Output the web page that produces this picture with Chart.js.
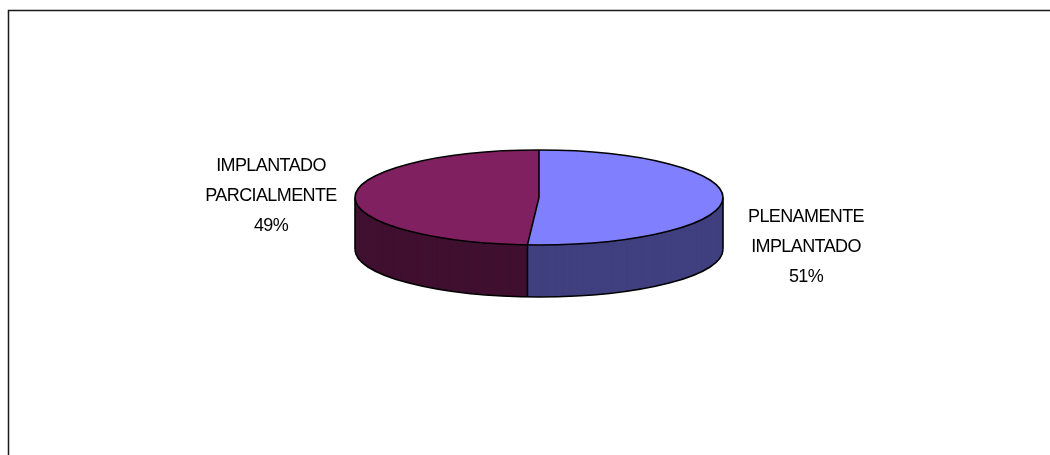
<!DOCTYPE html>
<html>
<head>
<meta charset="utf-8">
<style>
  body { margin: 0; background: #fff; }
  canvas { display: block; }
</style>
<script src="https://cdn.jsdelivr.net/npm/chart.js@4/dist/chart.umd.min.js"></script>
</head>
<body>
<canvas id="pieChart" width="1050" height="455"></canvas>
<script>
const categories = ['PLENAMENTE IMPLANTADO', 'IMPLANTADO PARCIALMENTE'];
const shares = [51, 49];
const topColors = ['#8080ff', '#802060'];
const sideColors = ['#404080', '#401030'];
const labelLines = [
  ['PLENAMENTE', 'IMPLANTADO', '51%'],
  ['IMPLANTADO', 'PARCIALMENTE', '49%']
];
const labelCenters = [[806, 217], [271, 166]];

const squash = 47.5 / 184;
const depth = 52;

function withSquash(ctx, arc, offset, fn) {
  ctx.save();
  ctx.translate(0, arc.y + offset);
  ctx.scale(1, squash);
  ctx.translate(0, -arc.y);
  fn();
  ctx.restore();
}

const pie3d = {
  id: 'pie3d',
  beforeDraw(chart) {
    const ctx = chart.ctx;
    ctx.save();
    ctx.strokeStyle = '#1a1a1a';
    ctx.lineWidth = 1.5;
    ctx.beginPath();
    ctx.moveTo(8.5, 455);
    ctx.lineTo(8.5, 10.5);
    ctx.lineTo(1050, 10.5);
    ctx.stroke();
    ctx.restore();
  },
  beforeDatasetsDraw(chart) {
    const ctx = chart.ctx;
    const arcs = chart.getDatasetMeta(0).data;
    // the side wall: same arcs, stacked downwards in the darker colour
    for (let d = depth; d > 0; d--) {
      arcs.forEach((arc, i) => {
        const opts = arc.options;
        arc.options = Object.assign({}, opts, { backgroundColor: sideColors[i] });
        withSquash(ctx, arc, d, () => arc.draw(ctx));
        arc.options = opts;
      });
    }
    const a = arcs[0];
    ctx.save();
    ctx.translate(0, a.y);
    ctx.scale(1, squash);
    ctx.translate(0, -a.y);
    ctx.restore();
    ctx.save();
    ctx.translate(0, a.y);
    ctx.scale(1, squash);
    ctx.translate(0, -a.y);
    chart.$squashed = true;
  },
  afterDatasetsDraw(chart) {
    const ctx = chart.ctx;
    if (chart.$squashed) ctx.restore();
    chart.$squashed = false;
    const arcs = chart.getDatasetMeta(0).data;
    const a = arcs[0];
    const rx = a.outerRadius;
    const ry = rx * squash;
    ctx.save();
    ctx.strokeStyle = '#000';
    ctx.lineWidth = 1.6;
    // top ellipse
    ctx.beginPath();
    ctx.ellipse(a.x, a.y, rx, ry, 0, 0, Math.PI * 2);
    ctx.stroke();
    // bottom rim, front half only
    ctx.beginPath();
    ctx.ellipse(a.x, a.y + depth, rx, ry, 0, 0, Math.PI);
    ctx.stroke();
    // wall edges left and right
    ctx.beginPath();
    ctx.moveTo(a.x - rx, a.y);
    ctx.lineTo(a.x - rx, a.y + depth);
    ctx.moveTo(a.x + rx, a.y);
    ctx.lineTo(a.x + rx, a.y + depth);
    // slice borders on top, and the front seam
    ctx.moveTo(a.x, a.y - ry);
    ctx.lineTo(a.x, a.y);
    const bx = a.x + rx * Math.cos(a.endAngle);
    const by = a.y + ry * Math.sin(a.endAngle);
    ctx.lineTo(bx, by);
    ctx.lineTo(bx, by + depth);
    ctx.stroke();
    ctx.restore();

    // labels
    ctx.save();
    ctx.fillStyle = '#000';
    ctx.font = '18px "Liberation Sans", Arial, sans-serif';
    ctx.textAlign = 'center';
    ctx.textBaseline = 'middle';
    ctx.letterSpacing = '-0.6px';
    labelLines.forEach((lines, i) => {
      lines.forEach((line, j) => {
        ctx.fillText(line, labelCenters[i][0], labelCenters[i][1] + j * 30);
      });
    });
    ctx.restore();
  }
};

new Chart(document.getElementById('pieChart'), {
  type: 'pie',
  data: {
    labels: categories,
    datasets: [{
      data: shares,
      backgroundColor: topColors,
      borderWidth: 0
    }]
  },
  options: {
    responsive: false,
    animation: false,
    layout: { padding: { left: 355, right: 327, top: 13.5, bottom: 73.5 } },
    plugins: {
      legend: { display: false },
      title: { display: false },
      tooltip: { enabled: false }
    }
  },
  plugins: [pie3d]
});
</script>
</body>
</html>
